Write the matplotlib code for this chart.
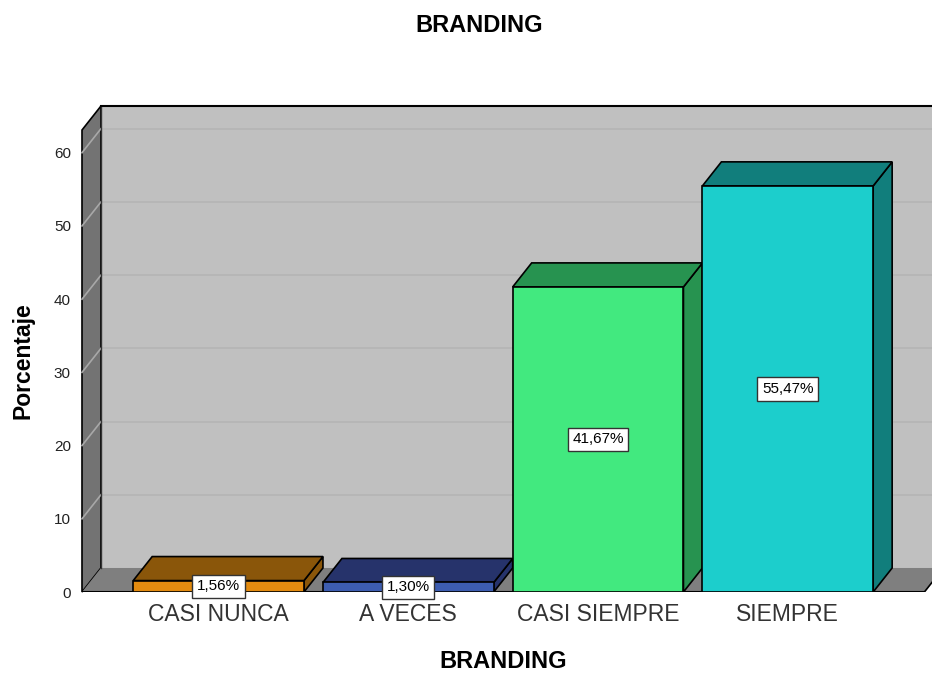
import matplotlib.pyplot as plt
from matplotlib.patches import Polygon
import numpy as np

# datos del grafico
categorias = ['CASI NUNCA', 'A VECES', 'CASI SIEMPRE', 'SIEMPRE']
porcentajes = [1.56, 1.30, 41.67, 55.47]
etiquetas = ['1,56%', '1,30%', '41,67%', '55,47%']
ticks_y = [0, 10, 20, 30, 40, 50, 60]

color_frente = ['#e38b10', '#3d5db0', '#42e97f', '#1ccecc']
color_lado = ['#8a560a', '#26336b', '#279350', '#117e7c']

plt.rcParams['font.family'] = ['Liberation Sans', 'DejaVu Sans']

fig = plt.figure(figsize=(9.32, 6.73), dpi=100)
ax = fig.add_axes([82 / 932, 81 / 673, 850 / 932, 486 / 673])

# profundidad del efecto 3d
dx = 0.1
dy = 3.28
x0 = -0.72
x1 = 3.72
ymax = 63.1
ancho = 0.9

ax.set_xlim(x0, 3.76)
ax.set_ylim(0, ymax + dy)
for s in ax.spines.values():
    s.set_visible(False)
ax.patch.set_visible(False)

# pared del fondo
ax.add_patch(Polygon([(x0 + dx, dy), (4.0, dy), (4.0, ymax + dy), (x0 + dx, ymax + dy)],
                     closed=True, fc='#c0c0c0', ec='none', zorder=1))
# pared izquierda
ax.add_patch(Polygon([(x0, 0), (x0 + dx, dy), (x0 + dx, ymax + dy), (x0, ymax)],
                     closed=True, fc='#737373', ec='black', lw=1.2, zorder=2, clip_on=False))
# piso
ax.add_patch(Polygon([(x0, 0), (x1, 0), (x1 + dx, dy), (x0 + dx, dy)],
                     closed=True, fc='#7f7f7f', ec='none', zorder=2))

# lineas de la grilla
for t in ticks_y[1:]:
    ax.plot([x0 + dx, 4.0], [t + dy, t + dy], color='#b5b5b5', lw=1.2, zorder=1.5)
    ax.plot([x0, x0 + dx], [t, t + dy], color='#a8a8a8', lw=1.2, zorder=2.5, clip_on=False)

# bordes
ax.plot([x0 + dx, 4.0], [ymax + dy, ymax + dy], color='black', lw=1.5, zorder=3, clip_on=False)
ax.plot([x0, x1], [0, 0], color='black', lw=1.5, zorder=3)
ax.plot([x1, x1 + dx], [0, dy], color='black', lw=1.2, zorder=3)
ax.plot([x0 + dx, x0 + dx], [dy, ymax + dy], color='#333333', lw=1, zorder=2.6)

xs = np.arange(len(categorias))
for i, v in enumerate(porcentajes):
    l = xs[i] - ancho / 2
    r = xs[i] + ancho / 2
    # cara lateral
    ax.add_patch(Polygon([(r, 0), (r + dx, dy), (r + dx, v + dy), (r, v)],
                         closed=True, fc=color_lado[i], ec='black', lw=1.2, zorder=4))
    # cara superior
    ax.add_patch(Polygon([(l, v), (r, v), (r + dx, v + dy), (l + dx, v + dy)],
                         closed=True, fc=color_lado[i], ec='black', lw=1.2, zorder=4))
    # cara frontal
    ax.add_patch(Polygon([(l, 0), (r, 0), (r, v), (l, v)],
                         closed=True, fc=color_frente[i], ec='black', lw=1.2, zorder=5))
    ax.text(xs[i], v / 2, etiquetas[i], ha='center', va='center', fontsize=11,
            color='black', zorder=6,
            bbox=dict(boxstyle='square,pad=0.3', fc='white', ec='#333333', lw=1))

ax.set_yticks(ticks_y)
ax.set_yticklabels([str(t) for t in ticks_y], fontsize=11, color='#222222')
ax.set_xticks(xs)
ax.set_xticklabels(categorias, fontsize=16.5, color='#333333')
ax.tick_params(axis='y', length=0, pad=8)
ax.tick_params(axis='x', length=0, pad=8)

fig.text(479.5 / 932, 1 - 25 / 673, 'BRANDING', ha='center', va='center',
         fontsize=17, fontweight='bold')
fig.text(503 / 932, 1 - 661 / 673, 'BRANDING', ha='center', va='center',
         fontsize=17, fontweight='bold')
fig.text(23 / 932, 1 - 361 / 673, 'Porcentaje', ha='center', va='center',
         rotation=90, fontsize=16.5, fontweight='bold')

fig.savefig('out.png', dpi=100)
